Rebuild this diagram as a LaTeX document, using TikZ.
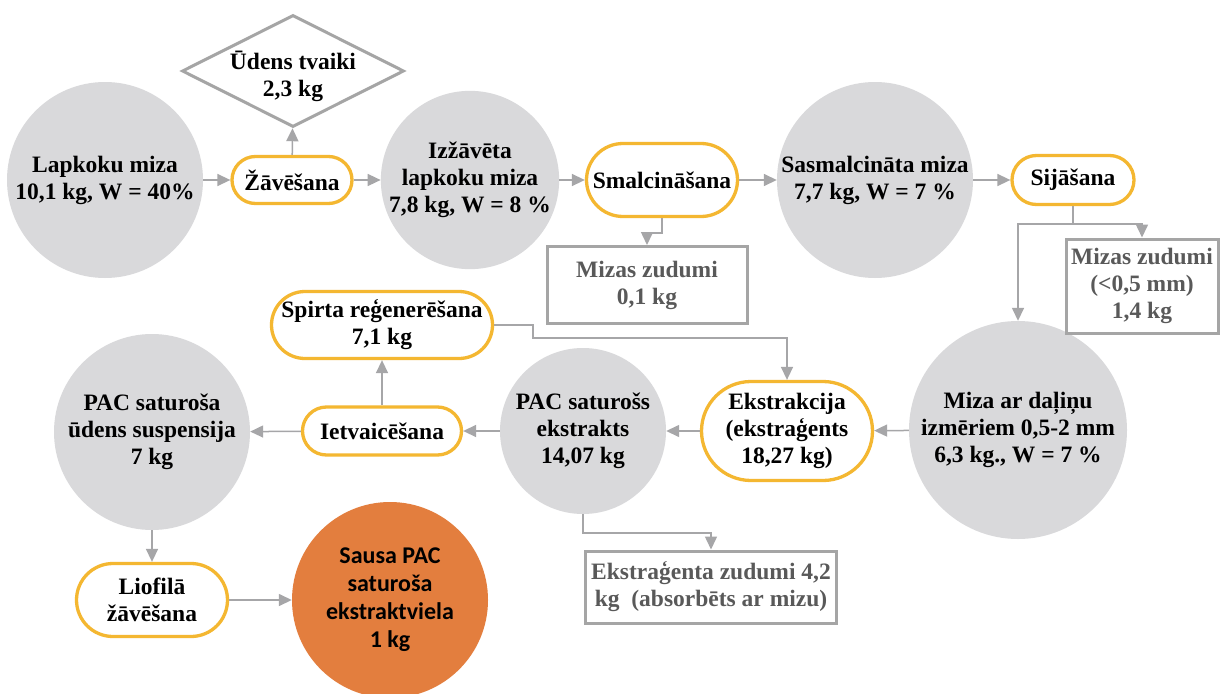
\documentclass[tikz,border=0pt]{standalone}
\usepackage{fontspec}
\setmainfont{Liberation Serif}
\newfontfamily\calib{Carlito}
\usetikzlibrary{arrows.meta,shapes.geometric}
\definecolor{discfill}{HTML}{D9D9DB}
\definecolor{procline}{HTML}{F4B731}
\definecolor{linkgray}{HTML}{A6A6A8}
\definecolor{lossgray}{HTML}{A5A5A5}
\definecolor{losstext}{HTML}{595959}
\definecolor{product}{HTML}{E37E3E}
\tikzset{
  txt/.style={font=\bfseries\fontsize{23.5}{27}\selectfont, align=center, text=black},
  disc/.style={txt, circle, fill=discfill, inner sep=0pt, minimum size=#1},
  proc/.style n args={2}{txt, rectangle, draw=procline, line width=3.3pt, fill=white,
     rounded corners=#2/2, minimum width=#1, minimum height=#2, inner sep=0pt},
  loss/.style n args={2}{txt, rectangle, draw=lossgray, line width=3pt, fill=white,
     text=losstext, minimum width=#1, minimum height=#2, inner sep=0pt},
  conn/.style={draw=linkgray, line width=1.5pt, -{Triangle[length=13pt,width=12pt]}},
}
\begin{document}
\begin{tikzpicture}[x=1pt, y=-1pt]
\clip (0,0) rectangle (1220,693);
\fill[white] (0,0) rectangle (1220,693);

% material streams
\node[disc=196pt] (raw)   at (105,180)  {Lapkoku miza\\10,1 kg, W = 40\%};
\node[disc=176pt] (dried) at (470,180)  {Izžāvēta\\lapkoku miza\\7,8 kg, W = 8 \%};
\node[disc=196pt] (milled) at (875,180) {Sasmalcināta miza\\7,7 kg, W = 7 \%};
\node[disc=218pt] (sieved) at (1018,430) {Miza ar daļiņu\\izmēriem 0,5-2 mm\\6,3 kg., W = 7 \%};
\node[disc=166pt] (extract) at (583,431) {PAC saturošs\\ekstrakts\\14,07 kg};
\node[disc=196pt] (susp)  at (152,432)  {PAC saturoša\\ūdens suspensija\\7 kg};
\node[disc=196pt, fill=product, font=\calib\bfseries\fontsize{24}{28}\selectfont] (dry) at (390,600)
  {Sausa PAC\\saturoša\\ekstraktviela\\1 kg};

% process steps
\node[proc={120pt}{47pt}] (drying) at (292,180) {Žāvēšana};
\node[proc={151pt}{73pt}] (grind)  at (662,180) {Smalcināšana};
\node[proc={122pt}{49pt}] (sieve)  at (1073,180) {Sijāšana};
\node[proc={171pt}{99pt}] (extr)   at (787,431) {Ekstrakcija\\(ekstraģents\\18,27 kg)};
\node[proc={159pt}{48pt}] (evap)   at (382,431) {Ietvaicēšana};
\node[proc={221pt}{67pt}] (regen)  at (382,325) {Spirta reģenerēšana\\7,1 kg};
\node[proc={151pt}{73pt}] (freeze) at (152,600) {Liofilā\\žāvēšana};

% by-products and losses
\node[diamond, draw=lossgray, line width=3pt, fill=white, inner sep=0pt, aspect=2,
      minimum width=222pt, minimum height=112pt] (steam) at (293,71) {};
\node[txt] (steamtxt) at ([yshift=-5pt]steam.center) {Ūdens tvaiki\\2,3 kg};
\node[loss={200pt}{77pt}] (loss1) at (647,285) {Mizas zudumi\\0,1 kg};
\node[loss={152pt}{94pt}] (loss2) at (1142,286) {Mizas zudumi\\(<0,5 mm)\\1,4 kg};
\node[loss={251pt}{72pt}] (loss3) at (711,587) {Ekstraģenta zudumi 4,2\\kg\ \ (absorbēts ar mizu)};

% flow
\draw[conn] (raw) -- (drying);
\draw[conn] (drying) -- (steam);
\draw[conn] (drying) -- (dried);
\draw[conn] (dried) -- (grind);
\draw[conn] (grind) -- (milled);
\draw[conn] (milled) -- (sieve);
\draw[conn] (grind.south) -- ++(0,15) -| (loss1.north);
\draw[draw=linkgray, line width=1.5pt] (sieve.south) -- ++(0,18) coordinate (split);
\draw[conn] (split) -| (loss2.north);
\draw[conn] (split) -| (sieved.north);
\draw[conn] (sieved) -- (extr);
\draw[conn] (regen.east) -- ++(39,0) -- ++(0,13) -| (extr.north);
\draw[conn] (extr) -- (extract);
\draw[conn] (extract.south) -- ++(0,19) -| (loss3.north);
\draw[conn] (extract) -- (evap);
\draw[conn] (evap) -- (regen);
\draw[conn] (evap) -- (susp);
\draw[conn] (susp) -- (freeze);
\draw[conn] (freeze) -- (dry);
\end{tikzpicture}
\end{document}
